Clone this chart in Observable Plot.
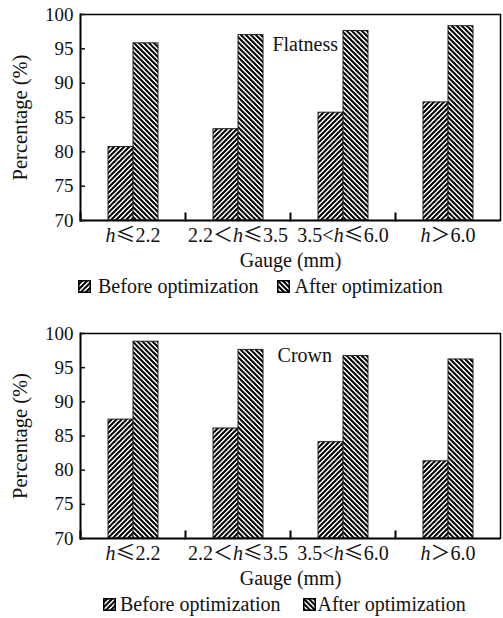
<!DOCTYPE html>
<html><head><meta charset="utf-8">
<script src="https://cdn.jsdelivr.net/npm/d3@7"></script>
<script src="https://cdn.jsdelivr.net/npm/@observablehq/plot@0.6"></script>
<style>
body{margin:0;background:#fff;font-family:"Liberation Serif","Times New Roman",serif;color:#111;width:503px;overflow:hidden;}
.legend{height:28px;display:flex;align-items:center;font-size:20px;white-space:nowrap;line-height:28px;}
.legend .item{display:flex;align-items:center;}
.legend svg{display:block;}
svg{display:block;}
</style></head><body>
<svg width="0" height="0" style="position:absolute">
<defs>
<pattern id="pat-before" patternUnits="userSpaceOnUse" width="5" height="5">
<rect width="5" height="5" fill="#fff"/>
<path d="M-1,1 l2,-2 M0,5 l5,-5 M4,6 l2,-2" stroke="#000" stroke-width="2"/>
</pattern>
<pattern id="pat-after" patternUnits="userSpaceOnUse" width="5" height="5">
<rect width="5" height="5" fill="#fff"/>
<path d="M-1,4 l2,2 M0,0 l5,5 M4,-1 l2,2" stroke="#000" stroke-width="2"/>
</pattern>
</defs></svg>
<div id="root"></div>
<script>
const categories = ["h≤2.2", "2.2＜h≤3.5", "3.5<h≤6.0", "h＞6.0"];
const seriesNames = ["Before optimization", "After optimization"];
const flatnessBefore = [80.7, 83.3, 85.7, 87.2];
const flatnessAfter = [95.8, 97.0, 97.6, 98.3];
const crownBefore = [87.4, 86.1, 84.1, 81.3];
const crownAfter = [98.8, 97.6, 96.7, 96.2];
const yTicks = [70, 75, 80, 85, 90, 95, 100];
const panelNames = ["Flatness", "Crown"];
const panelNameY = [95.6, 96.7];
const patternIds = ["url(#pat-before)", "url(#pat-after)"];

function makeChart({before, after, name, nameY, nameDx, marginTop, height}) {
  const marginBottom = 52;
  const rows = [];
  categories.forEach((c, i) => {
    rows.push({cat: c, series: seriesNames[0], value: before[i]});
    rows.push({cat: c, series: seriesNames[1], value: after[i]});
  });
  const inner = height - marginTop - marginBottom;
  const plot = Plot.plot({
    width: 503, height, marginTop, marginBottom, marginLeft: 79, marginRight: 2,
    style: {fontFamily: "Liberation Serif", fontSize: "19px", color: "#111", background: "#fff", overflow: "visible"},
    fx: {domain: categories, padding: 0, label: null},
    x: {domain: seriesNames, paddingInner: 0, paddingOuter: 1.07, axis: null},
    y: {domain: [70, 100]},
    color: {domain: seriesNames, range: patternIds},
    marks: [
      Plot.barY(rows, {fx: "cat", x: "series", y1: 70, y2: "value", fill: "series", stroke: "#222", strokeWidth: 1}),
      Plot.ruleY([70], {stroke: "#000", strokeWidth: 2}),
      Plot.ruleY([100], {stroke: "#000", strokeWidth: 1.5}),
      Plot.frame({anchor: "left", facetAnchor: "left", stroke: "#000", strokeWidth: 2}),
      Plot.frame({anchor: "right", facetAnchor: "right", stroke: "#000", strokeWidth: 1.5}),
      Plot.frame({anchor: "left", insetTop: inner - 7, stroke: "#000", strokeWidth: 2}),
      Plot.axisY(yTicks, {tickSize: -5, tickPadding: 12, strokeWidth: 1.5, fontSize: 19, label: null}),
      Plot.axisY([], {tickSize: 0, fontSize: 20.5, label: "Percentage (%)", labelAnchor: "center", labelOffset: 68, labelArrow: "none"}),
      Plot.axisFx({anchor: "bottom", tickSize: 0, tickPadding: 7, fontSize: 20, label: "Gauge (mm)", labelAnchor: "center", labelOffset: 46}),
      Plot.text([{cat: categories[2], v: nameY, t: name}], {fx: "cat", y: "v", text: "t", textAnchor: "end", dx: nameDx, fontSize: 20, fill: "#111"})
    ]
  });
  plot.querySelectorAll('g[aria-label="fx-axis tick label"] text').forEach(t => {
    const s = t.textContent;
    t.textContent = "";
    s.split(/(h|≤|＜|＞)/).forEach(part => {
      if (!part) return;
      const ts = document.createElementNS("http://www.w3.org/2000/svg", "tspan");
      if (part === "h") ts.setAttribute("font-style", "italic");
      if (part === "≤" || part === "＜" || part === "＞") ts.setAttribute("font-family", "Noto Sans CJK SC");
      ts.textContent = part;
      t.appendChild(ts);
    });
  });
  return plot;
}

function makeLegend(ml, swGaps, itemGap) {
  const div = document.createElement("div");
  div.className = "legend";
  div.style.paddingLeft = ml + "px";
  seriesNames.forEach((s, i) => {
    const item = document.createElement("div");
    item.className = "item";
    if (i > 0) item.style.marginLeft = itemGap + "px";
    const sw = d3.create("svg").attr("width", 13).attr("height", 13);
    sw.append("rect").attr("x", 0.75).attr("y", 0.75).attr("width", 11.5).attr("height", 11.5)
      .attr("fill", patternIds[i]).attr("stroke", "#000").attr("stroke-width", 1.5);
    item.appendChild(sw.node());
    const span = document.createElement("span");
    span.textContent = s;
    span.style.marginLeft = swGaps[i] + "px";
    item.appendChild(span);
    div.appendChild(item);
  });
  return div;
}

const root = document.getElementById("root");
root.appendChild(makeChart({before: flatnessBefore, after: flatnessAfter, name: panelNames[0], nameY: panelNameY[0], nameDx: -5, marginTop: 14, height: 272}));
root.appendChild(makeLegend(78, [7, 5], 18));
root.appendChild(makeChart({before: crownBefore, after: crownAfter, name: panelNames[1], nameY: panelNameY[1], nameDx: -11, marginTop: 33, height: 290}));
root.appendChild(makeLegend(103, [4, 2], 22));
</script>
</body></html>
